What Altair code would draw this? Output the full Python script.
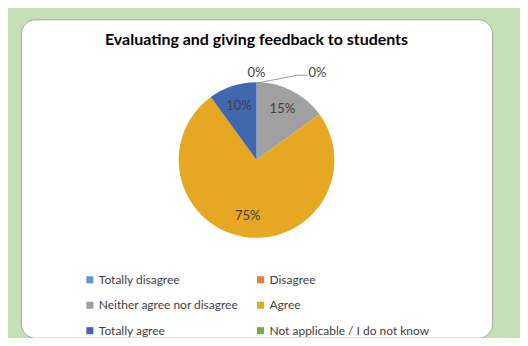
import altair as alt
import pandas as pd

categories = ["Totally disagree", "Disagree", "Neither agree nor disagree",
              "Agree", "Totally agree", "Not applicable / I do not know"]
shares = [0, 0, 15, 75, 10, 0]
labels = ["0%", "0%", "15%", "75%", "10%", ""]
colors = ["#5B9BD5", "#ED7D31", "#A0A0A0", "#E6A823", "#3F68B1", "#70AD47"]

df = pd.DataFrame({"category": categories, "share": shares, "label": labels})

FONT = "Lato"
TXT = "#404040"
CX, CY = 236, 141

base = alt.Chart(df).transform_window(idx="row_number()")

theta = alt.Theta("share:Q", stack=True)
order = alt.Order("idx:Q")

pie = base.mark_arc(radius=78).encode(
    theta=theta,
    order=order,
    color=alt.Color(
        "category:N",
        scale=alt.Scale(domain=categories, range=colors),
        legend=alt.Legend(
            title=None, orient="none", legendX=63, legendY=255, columns=2,
            direction="horizontal",
            symbolType="square", symbolSize=50, symbolStrokeWidth=0,
            labelFont=FONT, labelFontSize=12, labelColor=TXT,
            columnPadding=16, rowPadding=13.5, labelOffset=3, labelLimit=300,
        ),
    ),
    x=alt.value(CX), y=alt.value(CY),
)

text_in = base.mark_text(font=FONT, fontSize=13, color=TXT).encode(
    theta=theta,
    order=order,
    radius=alt.value(57),
    text=alt.condition(alt.datum.share != 0, alt.Text("label:N"), alt.value("")),
    x=alt.value(CX), y=alt.value(CY),
)

text_zero = base.mark_text(font=FONT, fontSize=13, color=TXT).encode(
    theta=theta,
    order=order,
    radius=alt.value(87),
    text=alt.condition((alt.datum.share == 0) & (alt.datum.category != "Disagree"),
                       alt.Text("label:N"), alt.value("")),
    x=alt.value(CX), y=alt.value(CY),
)

text_dis = base.mark_text(font=FONT, fontSize=13, color=TXT, dx=61).encode(
    theta=theta,
    order=order,
    radius=alt.value(87),
    text=alt.condition(alt.datum.category == "Disagree", alt.Text("label:N"), alt.value("")),
    x=alt.value(CX), y=alt.value(CY),
)

lead = alt.Chart(df).transform_filter(alt.datum.category == "Disagree")
rule1 = lead.mark_rule(color="#7F7F7F", strokeWidth=0.8).encode(
    x=alt.value(CX), y=alt.value(CY - 77), x2=alt.value(CX + 41), y2=alt.value(CY - 85))
rule2 = lead.mark_rule(color="#7F7F7F", strokeWidth=0.8).encode(
    x=alt.value(CX + 41), y=alt.value(CY - 85), x2=alt.value(CX + 51), y2=alt.value(CY - 85))

chart = alt.layer(pie, text_in, text_zero, text_dis, rule1, rule2).properties(
    width=472, height=319,
    title=alt.TitleParams(
        "Evaluating and giving feedback to students",
        font=FONT, fontSize=16, fontWeight="bold", color="#000000",
        anchor="middle", offset=-29,
    ),
    autosize=alt.AutoSizeParams(type="none"),
    padding={"left": 13, "top": 11, "right": 28, "bottom": 0},
).configure(background="#C5E0B4").configure_view(
    fill="white", stroke="#A6A6A6", strokeWidth=1, cornerRadius=14
)

chart.save("out.html", embed_options={"renderer": "svg", "actions": False})
